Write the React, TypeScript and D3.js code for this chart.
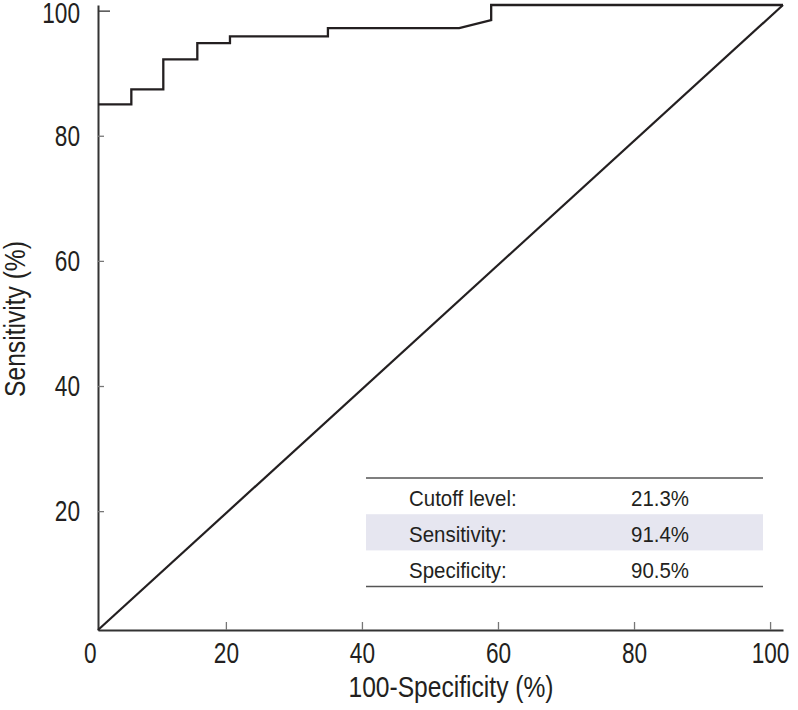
import * as d3 from "d3";
import { useEffect, useRef } from "react";

// ROC curve (x = 100-specificity, y = sensitivity)
const rocFpr = [1.2, 6.1, 6.1, 10.8, 10.8, 15.8, 15.8, 20.6, 20.6, 35.0, 35.0, 54.3, 59.0, 59.0, 101.9];
const rocSens = [85.0, 85.0, 87.4, 87.4, 92.2, 92.2, 94.8, 94.8, 95.9, 95.9, 97.2, 97.2, 98.5, 100.9, 100.9];

// reference (chance) line
const refFpr = [1.2, 101.9];
const refSens = [1.0, 100.9];

const xTicks = [0, 20, 40, 60, 80, 100];
const yTicks = [20, 40, 60, 80, 100];

const tableLabels = ["Cutoff level:", "Sensitivity:", "Specificity:"];
const tableValues = ["21.3%", "91.4%", "90.5%"];

const FONT = "'Liberation Sans', Arial, sans-serif";

// squeeze text horizontally to mimic the condensed face of the original
const condense = (sel: d3.Selection<any, any, any, any>, k: number) => {
  sel.each(function () {
    const el = this as SVGTextElement;
    const len = el.getComputedTextLength();
    d3.select(el).attr("textLength", len * k).attr("lengthAdjust", "spacingAndGlyphs");
  });
};

const App = () => {
  const svgRef = useRef<SVGSVGElement>(null);

  useEffect(() => {
    document.body.style.margin = "0";
    const w = 798;
    const h = 710;
    const svg = d3.select(svgRef.current).attr("width", w).attr("height", h);
    svg.selectAll("*").remove();

    const x = d3.scaleLinear().domain([1.2, 101.9]).range([98, 783]);
    const y = d3.scaleLinear().domain([1.0, 100.9]).range([630, 5]);

    // table behind the curves
    const tLeft = 366;
    const tRight = 763;
    const tTop = 478;
    const rowH = 36.2;
    const table = svg.append("g");
    table
      .append("rect")
      .attr("x", tLeft)
      .attr("y", tTop + rowH)
      .attr("width", tRight - tLeft)
      .attr("height", rowH)
      .attr("fill", "#e6e6f0");
    [tTop, tTop + rowH * 3].forEach((ly) => {
      table
        .append("line")
        .attr("x1", tLeft)
        .attr("x2", tRight)
        .attr("y1", ly)
        .attr("y2", ly)
        .attr("stroke", "#555")
        .attr("stroke-width", 1.5);
    });
    tableLabels.forEach((lab, i) => {
      table
        .append("text")
        .attr("x", 409)
        .attr("y", tTop + rowH * i + 28)
        .attr("font-family", FONT)
        .attr("font-size", 22)
        .attr("fill", "#231f20")
        .text(lab);
      table
        .append("text")
        .attr("x", 631)
        .attr("y", tTop + rowH * i + 28)
        .attr("font-family", FONT)
        .attr("font-size", 22)
        .attr("fill", "#231f20")
        .text(tableValues[i]);
    });
    condense(table.selectAll("text"), 0.93);

    // axes
    const xAxis = d3.axisBottom(x).tickValues(xTicks).tickSize(-8).tickSizeOuter(0).tickPadding(12);
    const gx = svg.append("g").attr("transform", "translate(0,630)").call(xAxis);
    const yAxis = d3.axisLeft(y).tickValues(yTicks).tickSize(-6).tickSizeOuter(0).tickPadding(18);
    const gy = svg.append("g").attr("transform", "translate(98,0)").call(yAxis);

    [gx, gy].forEach((g) => {
      g.select(".domain").attr("stroke", "#333").attr("stroke-width", 2);
      g.selectAll(".tick line").attr("stroke", "#777").attr("stroke-width", 1.3);
      g.selectAll(".tick text")
        .attr("fill", "#231f20")
        .attr("font-family", FONT)
        .attr("font-size", 29);
      condense(g.selectAll(".tick text"), 0.78);
    });
    gx.selectAll(".tick")
      .filter((d: any) => d === 0)
      .select("line")
      .remove();
    gy.selectAll(".tick")
      .filter((d: any) => d === 100)
      .select("line")
      .attr("x2", 12)
      .attr("stroke", "#333");
    gy.selectAll(".tick")
      .filter((d: any) => d === 100)
      .select("text")
      .attr("dy", "0.4em");

    // axis titles
    const xTitle = svg
      .append("text")
      .attr("x", 451)
      .attr("y", 697)
      .attr("text-anchor", "middle")
      .attr("font-family", FONT)
      .attr("font-size", 30)
      .attr("fill", "#231f20")
      .text("100-Specificity (%)");
    const yTitle = svg
      .append("text")
      .attr("transform", "translate(25,319) rotate(-90)")
      .attr("text-anchor", "middle")
      .attr("font-family", FONT)
      .attr("font-size", 30)
      .attr("fill", "#231f20")
      .text("Sensitivity (%)");
    condense(xTitle, 0.82);
    condense(yTitle, 0.82);

    const refPts = refFpr.map((f, i) => [f, refSens[i]] as [number, number]);
    const rocPts = rocFpr.map((f, i) => [f, rocSens[i]] as [number, number]);
    const gen = d3
      .line<[number, number]>()
      .x((d) => x(d[0]))
      .y((d) => y(d[1]));

    // chance line
    svg
      .append("path")
      .datum(refPts)
      .attr("d", gen)
      .attr("fill", "none")
      .attr("stroke", "#231f20")
      .attr("stroke-width", 2.2);

    // ROC curve
    svg
      .append("path")
      .datum(rocPts)
      .attr("d", gen)
      .attr("fill", "none")
      .attr("stroke", "#231f20")
      .attr("stroke-width", 2.3)
      .attr("stroke-linejoin", "miter");
  }, []);

  return (
    <div>
      <svg ref={svgRef} style={{ position: "absolute", left: 0, top: 0 }}></svg>
    </div>
  );
};

export default App;
